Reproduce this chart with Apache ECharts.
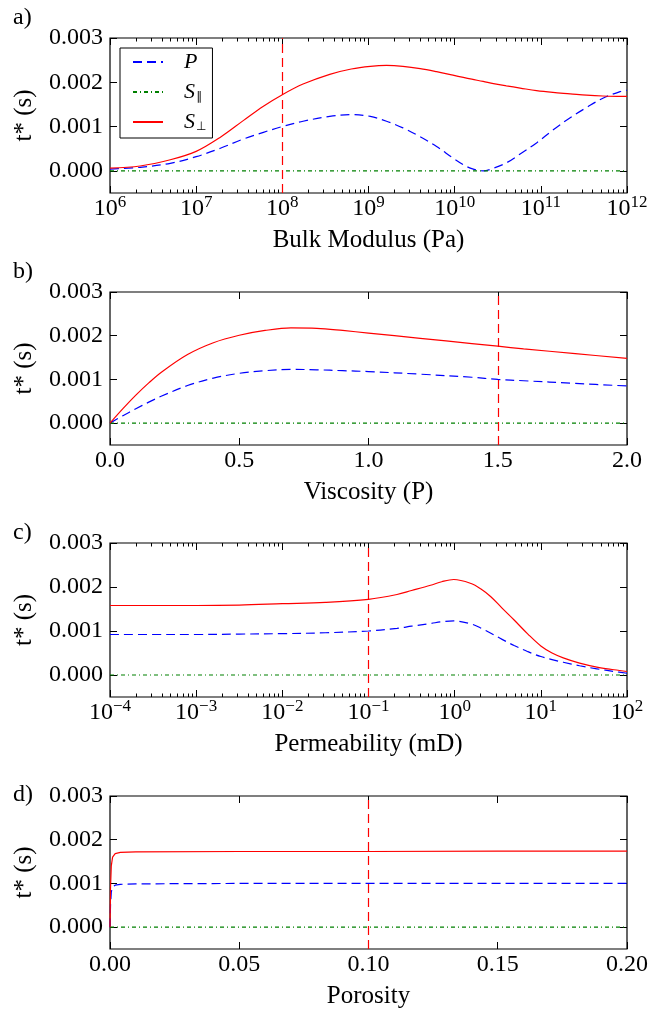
<!DOCTYPE html>
<html>
<head>
<meta charset="utf-8">
<script src="https://cdn.jsdelivr.net/npm/echarts@6.0.0/dist/echarts.min.js"></script>
<style>
  html, body { margin: 0; padding: 0; background: #fff; }
  #chart { width: 652px; height: 1011px; }
</style>
</head>
<body>
<div id="chart"></div>
<script>
// Attenuation t* of P, S-parallel and S-perpendicular waves against rock/fluid parameters.

const FONT = '"Liberation Serif", "Times New Roman", serif';
const COLOR_P = '#0000ff';
const COLOR_SPAR = '#008000';
const COLOR_SPERP = '#ff0000';

const yTicks = [0, 0.001, 0.002, 0.003];
const yMin = -0.0005;
const yMax = 0.003;

// a) Bulk modulus (Pa), log axis
const bulkModulus = [1e6, 2.24e6, 5.01e6, 1e7, 1.91e7, 3.55e7, 6.03e7, 1e8, 1.74e8, 3.55e8,
  6.31e8, 1.05e9, 1.62e9, 2.51e9, 3.98e9, 6.17e9, 9.55e9, 1.26e10, 1.58e10, 2.14e10,
  2.82e10, 3.98e10, 5.75e10, 8.91e10, 1.38e11, 2.19e11, 3.39e11, 5.25e11, 8.32e11, 1e12];
const bulkP = [0.00004, 0.00008, 0.00017, 0.00032, 0.00051, 0.00072, 0.00087, 0.00100, 0.00112, 0.00123,
  0.00127, 0.00123, 0.00112, 0.00097, 0.00077, 0.00055, 0.00029, 0.00014, 0.00005, 0.00000,
  0.00006, 0.00018, 0.00038, 0.00063, 0.00092, 0.00120, 0.00143, 0.00164, 0.00179, 0.00182];
const bulkSPar = [0, 0, 0, 0, 0, 0, 0, 0, 0, 0, 0, 0, 0, 0, 0, 0, 0, 0, 0, 0, 0, 0, 0, 0, 0, 0, 0, 0, 0, 0];
const bulkSPerp = [0.00006, 0.00011, 0.00025, 0.00044, 0.00076, 0.00114, 0.00146, 0.00172, 0.00196, 0.00218,
  0.00230, 0.00236, 0.00238, 0.00236, 0.00231, 0.00224, 0.00216, 0.00211, 0.00207, 0.00202,
  0.00197, 0.00192, 0.00187, 0.00181, 0.00177, 0.00174, 0.00171, 0.00169, 0.00168, 0.00168];
const bulkExponents = [6, 7, 8, 9, 10, 11, 12];
const bulkReference = 1e8;

// b) Viscosity (P), linear axis
const viscosity = [0, 0.05, 0.1, 0.15, 0.2, 0.3, 0.4, 0.5, 0.6, 0.7, 0.8, 0.9, 1.0, 1.2, 1.4, 1.5, 1.6, 1.8, 2.0];
const viscP = [0, 0.00017, 0.00033, 0.00048, 0.00062, 0.00086, 0.00103, 0.00114, 0.00120, 0.00123,
  0.00122, 0.00120, 0.00118, 0.00112, 0.00105, 0.00100, 0.00097, 0.00091, 0.00085];
const viscSPar = [0, 0, 0, 0, 0, 0, 0, 0, 0, 0, 0, 0, 0, 0, 0, 0, 0, 0, 0];
const viscSPerp = [0, 0.00033, 0.00064, 0.00092, 0.00117, 0.00157, 0.00184, 0.00201, 0.00212, 0.00218,
  0.00217, 0.00212, 0.00206, 0.00194, 0.00182, 0.00176, 0.00170, 0.00159, 0.00148];
const viscTicks = [0, 0.5, 1.0, 1.5, 2.0];
const viscReference = 1.5;

// c) Permeability (mD), log axis
const permeability = [1e-4, 3.16e-4, 1e-3, 3.16e-3, 1e-2, 3.16e-2, 0.1, 0.214, 0.316, 0.525,
  0.708, 0.977, 1.55, 2.0, 2.63, 3.55, 4.9, 7.08, 10, 13.5,
  18.2, 28.2, 44.7, 70.8, 100];
const permP = [0.00092, 0.00092, 0.00092, 0.00093, 0.00094, 0.00096, 0.00100, 0.00106, 0.00111, 0.00117,
  0.00121, 0.00123, 0.00116, 0.00107, 0.00095, 0.00081, 0.00067, 0.00053, 0.00042, 0.00035,
  0.00029, 0.00021, 0.00014, 0.00008, 0.00004];
const permSPar = [0, 0, 0, 0, 0, 0, 0, 0, 0, 0, 0, 0, 0, 0, 0, 0, 0, 0, 0, 0, 0, 0, 0, 0, 0];
const permSPerp = [0.00158, 0.00158, 0.00158, 0.00159, 0.00162, 0.00165, 0.00172, 0.00183, 0.00192, 0.00204,
  0.00212, 0.00217, 0.00208, 0.00196, 0.00178, 0.00152, 0.00125, 0.00093, 0.00066, 0.00050,
  0.00039, 0.00027, 0.00018, 0.00012, 0.00008];
const permExponents = [-4, -3, -2, -1, 0, 1, 2];
const permReference = 0.1;

// d) Porosity, linear axis
const porosity = [0, 0.0002, 0.0005, 0.001, 0.002, 0.004, 0.01, 0.05, 0.1, 0.15, 0.2];
const poroP = [0, 0.00050, 0.00080, 0.00092, 0.00096, 0.00098, 0.00099, 0.00100, 0.00100, 0.00100, 0.00100];
const poroSPar = [0, 0, 0, 0, 0, 0, 0, 0, 0, 0, 0];
const poroSPerp = [0, 0.00090, 0.00140, 0.00160, 0.00168, 0.00171, 0.00172, 0.00173, 0.00173, 0.00174, 0.00174];
const poroTicks = [0, 0.05, 0.1, 0.15, 0.2];
const poroReference = 0.1;

const panels = [
  { label: 'a)', title: 'Bulk Modulus (Pa)', log: true, x: bulkModulus, p: bulkP, sPar: bulkSPar, sPerp: bulkSPerp,
    exps: bulkExponents, ref: bulkReference, top: 38, height: 155, labelTop: 6, smooth: 0.35 },
  { label: 'b)', title: 'Viscosity (P)', log: false, x: viscosity, p: viscP, sPar: viscSPar, sPerp: viscSPerp,
    ticks: viscTicks, digits: 1, ref: viscReference, top: 292, height: 153, labelTop: 260, smooth: 0.35 },
  { label: 'c)', title: 'Permeability (mD)', log: true, x: permeability, p: permP, sPar: permSPar, sPerp: permSPerp,
    exps: permExponents, ref: permReference, top: 543, height: 154, labelTop: 521, smooth: 0.35 },
  { label: 'd)', title: 'Porosity', log: false, x: porosity, p: poroP, sPar: poroSPar, sPerp: poroSPerp,
    ticks: poroTicks, digits: 2, ref: poroReference, top: 796, height: 153, labelTop: 783, smooth: false }
];

const GRID_LEFT = 110;
const GRID_WIDTH = 517;
const TICK_FONT = 24;
const NAME_FONT = 25;

const tickLine = { color: '#000', width: 1 };
const noLine = { show: false, onZero: false };
const noSplit = { show: false };

// minor decade ticks (2..9 × 10^n) expressed in log10 units
function minorLogTicks(exps) {
  const out = [];
  for (let e = exps[0]; e < exps[exps.length - 1]; e++) {
    for (let k = 2; k <= 9; k++) out.push(e + Math.log10(k));
  }
  return out;
}

function powerLabel(v) {
  const n = Math.round(v);
  return '{b|10}{s|' + (n < 0 ? '\u2212' + (-n) : n) + '}';
}

const powerRich = {
  b: { fontFamily: FONT, fontSize: TICK_FONT, color: '#000', lineHeight: 29 },
  s: { fontFamily: FONT, fontSize: 17, color: '#000', lineHeight: 17, verticalAlign: 'top' }
};

const grid = [];
const xAxis = [];
const yAxis = [];
const series = [];
const title = [];

panels.forEach((pn, i) => {
  grid.push({
    left: GRID_LEFT, width: GRID_WIDTH, top: pn.top, height: pn.height,
    show: true, borderColor: '#000', borderWidth: 1.2, backgroundColor: 'transparent'
  });

  title.push({
    text: pn.label, left: 13, top: pn.labelTop, padding: 0,
    textStyle: { fontFamily: FONT, fontSize: 24, fontWeight: 'normal', color: '#000' }
  });

  const nameStyle = { fontFamily: FONT, fontSize: NAME_FONT, color: '#000' };
  let dataAxisIndex;

  if (pn.log) {
    const lo = pn.exps[0], hi = pn.exps[pn.exps.length - 1];
    const minors = minorLogTicks(pn.exps);
    dataAxisIndex = xAxis.length;
    xAxis.push({
      type: 'log', logBase: 10, gridIndex: i, show: false, axisLine: noLine,
      min: Math.pow(10, lo), max: Math.pow(10, hi)
    });
    // bottom: decades with labels
    xAxis.push({
      type: 'value', gridIndex: i, position: 'bottom', min: lo, max: hi, interval: 1,
      axisLine: noLine, splitLine: noSplit,
      axisTick: { inside: true, length: 7, lineStyle: tickLine },
      axisLabel: { formatter: powerLabel, rich: powerRich, margin: 1, color: '#000' },
      name: pn.title, nameLocation: 'middle', nameGap: 35, nameTextStyle: nameStyle
    });
    xAxis.push({
      type: 'value', gridIndex: i, position: 'bottom', min: lo, max: hi,
      axisLine: noLine, splitLine: noSplit, axisLabel: { show: false },
      axisTick: { inside: true, length: 3.5, lineStyle: tickLine, customValues: minors }
    });
    // top: mirrored ticks
    xAxis.push({
      type: 'value', gridIndex: i, position: 'top', min: lo, max: hi, interval: 1,
      axisLine: noLine, splitLine: noSplit, axisLabel: { show: false },
      axisTick: { inside: true, length: 7, lineStyle: tickLine }
    });
    xAxis.push({
      type: 'value', gridIndex: i, position: 'top', min: lo, max: hi,
      axisLine: noLine, splitLine: noSplit, axisLabel: { show: false },
      axisTick: { inside: true, length: 3.5, lineStyle: tickLine, customValues: minors }
    });
  } else {
    const lo = pn.ticks[0], hi = pn.ticks[pn.ticks.length - 1];
    dataAxisIndex = xAxis.length;
    xAxis.push({
      type: 'value', gridIndex: i, position: 'bottom', min: lo, max: hi,
      axisLine: noLine, splitLine: noSplit,
      axisTick: { inside: true, length: 7, lineStyle: tickLine, customValues: pn.ticks },
      axisLabel: {
        customValues: pn.ticks, margin: 4, color: '#000', fontFamily: FONT, fontSize: TICK_FONT,
        formatter: v => v.toFixed(pn.digits)
      },
      name: pn.title, nameLocation: 'middle', nameGap: 35, nameTextStyle: nameStyle
    });
    xAxis.push({
      type: 'value', gridIndex: i, position: 'top', min: lo, max: hi,
      axisLine: noLine, splitLine: noSplit, axisLabel: { show: false },
      axisTick: { inside: true, length: 7, lineStyle: tickLine, customValues: pn.ticks }
    });
  }

  const yIndex = yAxis.length;
  yAxis.push({
    type: 'value', gridIndex: i, position: 'left', min: yMin, max: yMax,
    axisLine: noLine, splitLine: noSplit,
    axisTick: { inside: true, length: 7, lineStyle: tickLine, customValues: yTicks },
    axisLabel: {
      customValues: yTicks, margin: 7, color: '#000', fontFamily: FONT, fontSize: TICK_FONT,
      formatter: v => v.toFixed(3)
    },
    name: 't* (s)', nameLocation: 'middle', nameGap: 73, nameTextStyle: nameStyle
  });
  yAxis.push({
    type: 'value', gridIndex: i, position: 'right', min: yMin, max: yMax,
    axisLine: noLine, splitLine: noSplit, axisLabel: { show: false },
    axisTick: { inside: true, length: 7, lineStyle: tickLine, customValues: yTicks }
  });

  const common = {
    type: 'line', xAxisIndex: dataAxisIndex, yAxisIndex: yIndex,
    symbol: 'none', smooth: pn.smooth, silent: true, animation: false,
    itemStyle: { color: 'rgba(0,0,0,0)' }
  };
  const pairs = ys => pn.x.map((xv, k) => [xv, ys[k]]);

  series.push(Object.assign({}, common, {
    name: 'P', data: pairs(pn.p),
    lineStyle: { color: COLOR_P, width: 1.2, type: [9, 5] }
  }));
  series.push(Object.assign({}, common, {
    name: 'S\u2225', data: pairs(pn.sPar), smooth: false,
    lineStyle: { color: COLOR_SPAR, width: 1.2, type: [4, 3, 1, 3] }
  }));
  series.push(Object.assign({}, common, {
    name: 'S\u22a5', data: pairs(pn.sPerp),
    lineStyle: { color: COLOR_SPERP, width: 1.2, type: 'solid' },
    markLine: {
      silent: true, symbol: ['none', 'none'], animation: false,
      label: { show: false },
      lineStyle: { color: COLOR_SPERP, width: 1.2, type: [9, 5] },
      data: [{ xAxis: pn.ref }]
    }
  }));
});

const legendNames = { 'P': '{it|P}', 'S\u2225': '{it|S}{sub|\u2225}', 'S\u22a5': '{it|S}{sub|\u22a5}' };

const option = {
  animation: false,
  backgroundColor: '#fff',
  title,
  grid,
  xAxis,
  yAxis,
  series,
  legend: {
    data: ['P', 'S\u2225', 'S\u22a5'],
    orient: 'vertical', left: 120, top: 48,
    itemWidth: 30, itemHeight: 14, itemGap: 8,
    padding: [3, 6, 5, 12],
    borderColor: '#000', borderWidth: 1, borderRadius: 0, backgroundColor: '#fff',
    selectedMode: false,
    itemStyle: { color: 'rgba(0,0,0,0)', borderWidth: 0, opacity: 0 },
    formatter: n => legendNames[n],
    textStyle: {
      padding: [0, 0, 0, 16],
      rich: {
        it: { fontFamily: FONT, fontSize: 22, fontStyle: 'italic', color: '#000', lineHeight: 22 },
        sub: { fontFamily: '"DejaVu Sans", sans-serif', fontSize: 12, color: '#000', lineHeight: 14,
               verticalAlign: 'bottom', padding: [0, 0, 0, 1] }
      }
    }
  }
};

const chart = echarts.init(document.getElementById('chart'), null, { renderer: 'canvas' });
chart.setOption(option);
</script>
</body>
</html>
